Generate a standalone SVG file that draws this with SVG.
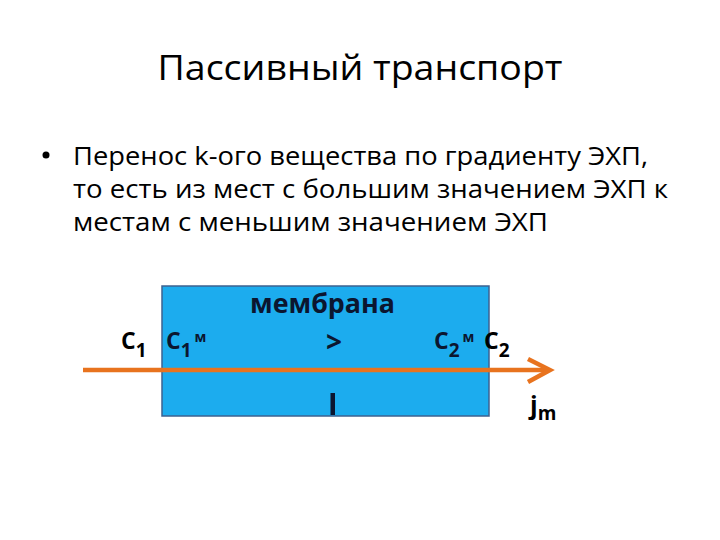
<svg xmlns="http://www.w3.org/2000/svg" width="720" height="540" viewBox="0 0 720 540">
<style>
.t{font-family:"Open Sans","Liberation Sans",sans-serif;fill:#000}
.b{font-family:"Open Sans","Liberation Sans",sans-serif;font-weight:bold;fill:#0b1630}
.lab{font-family:"Open Sans","Liberation Sans",sans-serif;font-weight:bold;fill:#000}
.sub{font-size:19px}
.sup{font-size:14px}
</style>
<rect width="720" height="540" fill="#fff"/>
<text class="t" x="360" y="80" font-size="34" text-anchor="middle" textLength="405" lengthAdjust="spacingAndGlyphs">Пассивный транспорт</text>
<g id="bullet">
<circle cx="46" cy="155" r="3.5" fill="#000"/>
<text class="t" x="73" y="165" font-size="26" textLength="575" lengthAdjust="spacingAndGlyphs">Перенос k-ого вещества по градиенту ЭХП,</text>
<text class="t" x="73" y="198" font-size="26" textLength="595" lengthAdjust="spacingAndGlyphs">то есть из мест с большим значением ЭХП к</text>
<text class="t" x="73" y="231" font-size="26" textLength="475" lengthAdjust="spacingAndGlyphs">местам с меньшим значением ЭХП</text>
</g>
<g id="membrane">
<rect x="162" y="286" width="327" height="130" fill="#1cacee" stroke="#3d6290" stroke-width="1.5"/>
<text class="b" x="250" y="313" font-size="26" textLength="145" lengthAdjust="spacingAndGlyphs">мембрана</text>
<text class="b" x="334" y="352" font-size="28" text-anchor="middle">&gt;</text>
<rect x="330.5" y="393" width="4.5" height="22" fill="#0b1630"/>
</g>
<g id="connectors">
<line x1="83" y1="370" x2="548" y2="370" stroke="#e8731e" stroke-width="4.5"/>
<path d="M528,359 L550,370 L528,382" fill="none" stroke="#e8731e" stroke-width="4.5"/>
</g>
<g id="labels">
<text class="lab" x="121" y="349" font-size="23">C<tspan class="sub" dy="8">1</tspan></text>
<text class="b" x="166" y="349" font-size="23">C<tspan class="sub" dy="8">1</tspan><tspan class="sup" dy="-15" dx="3">м</tspan></text>
<text class="b" x="434" y="349" font-size="23">C<tspan class="sub" dy="8">2</tspan><tspan class="sup" dy="-15" dx="3">м</tspan></text>
<text class="lab" x="484" y="349" font-size="23">C<tspan class="sub" dy="8">2</tspan></text>
<text class="lab" x="530" y="414" font-size="25">j<tspan class="sub" dy="6">m</tspan></text>
</g>
</svg>
